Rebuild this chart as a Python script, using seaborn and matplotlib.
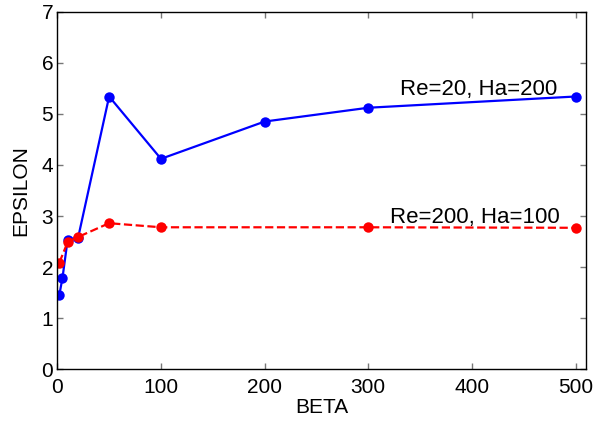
import pandas as pd
import matplotlib.pyplot as plt
import seaborn as sns

beta_blue = [2, 5, 10, 20, 50, 100, 200, 300, 500]
eps_blue = [1.46, 1.79, 2.54, 2.57, 5.34, 4.12, 4.85, 5.12, 5.34]
beta_red = [2, 10, 20, 50, 100, 300, 500]
eps_red = [2.09, 2.49, 2.59, 2.86, 2.78, 2.78, 2.77]
label_blue = "Re=20, Ha=200"
label_red = "Re=200, Ha=100"

df_blue = pd.DataFrame({"beta": beta_blue, "eps": eps_blue})
df_red = pd.DataFrame({"beta": beta_red, "eps": eps_red})

sns.set_theme(style="ticks")
plt.rcParams.update({
    "font.family": ["Liberation Sans", "DejaVu Sans"],
    "text.color": "black",
    "axes.labelcolor": "black",
    "xtick.direction": "in",
    "ytick.direction": "in",
    "xtick.top": True,
    "ytick.right": True,
    "axes.edgecolor": "black",
    "axes.linewidth": 1.0,
})

fig = plt.figure(figsize=(5.95, 4.23), dpi=100)
ax = fig.add_axes([57.3 / 595, 1 - 369.3 / 423, 528.7 / 595, 357.6 / 423])

sns.lineplot(data=df_blue, x="beta", y="eps", ax=ax, color="#0000ff",
             marker="o", markersize=7.5, markeredgewidth=0, linewidth=1.6)
sns.lineplot(data=df_red, x="beta", y="eps", ax=ax, color="#ff0000",
             marker="o", markersize=7.5, markeredgewidth=0, linewidth=1.6,
             linestyle="--", dashes=(3.2, 2))

ax.text(331, 5.36, label_blue, ha="left", va="baseline", fontsize=16)
ax.text(321, 2.87, label_red, ha="left", va="baseline", fontsize=16)

ax.set_xlim(0, 510)
ax.set_ylim(0, 7)
ax.set_xticks(range(0, 501, 100))
ax.set_yticks(range(0, 8))
ax.tick_params(labelsize=15, length=4, width=1.0, color="#777777",
               labelcolor="black")
ax.tick_params(axis="x", pad=6)
ax.tick_params(axis="y", pad=3)
ax.set_xlabel("BETA", fontsize=15, labelpad=1)
ax.set_ylabel("EPSILON", fontsize=15, labelpad=8)
for s in ax.spines.values():
    s.set_visible(True)

fig.savefig("out.png", dpi=100)
